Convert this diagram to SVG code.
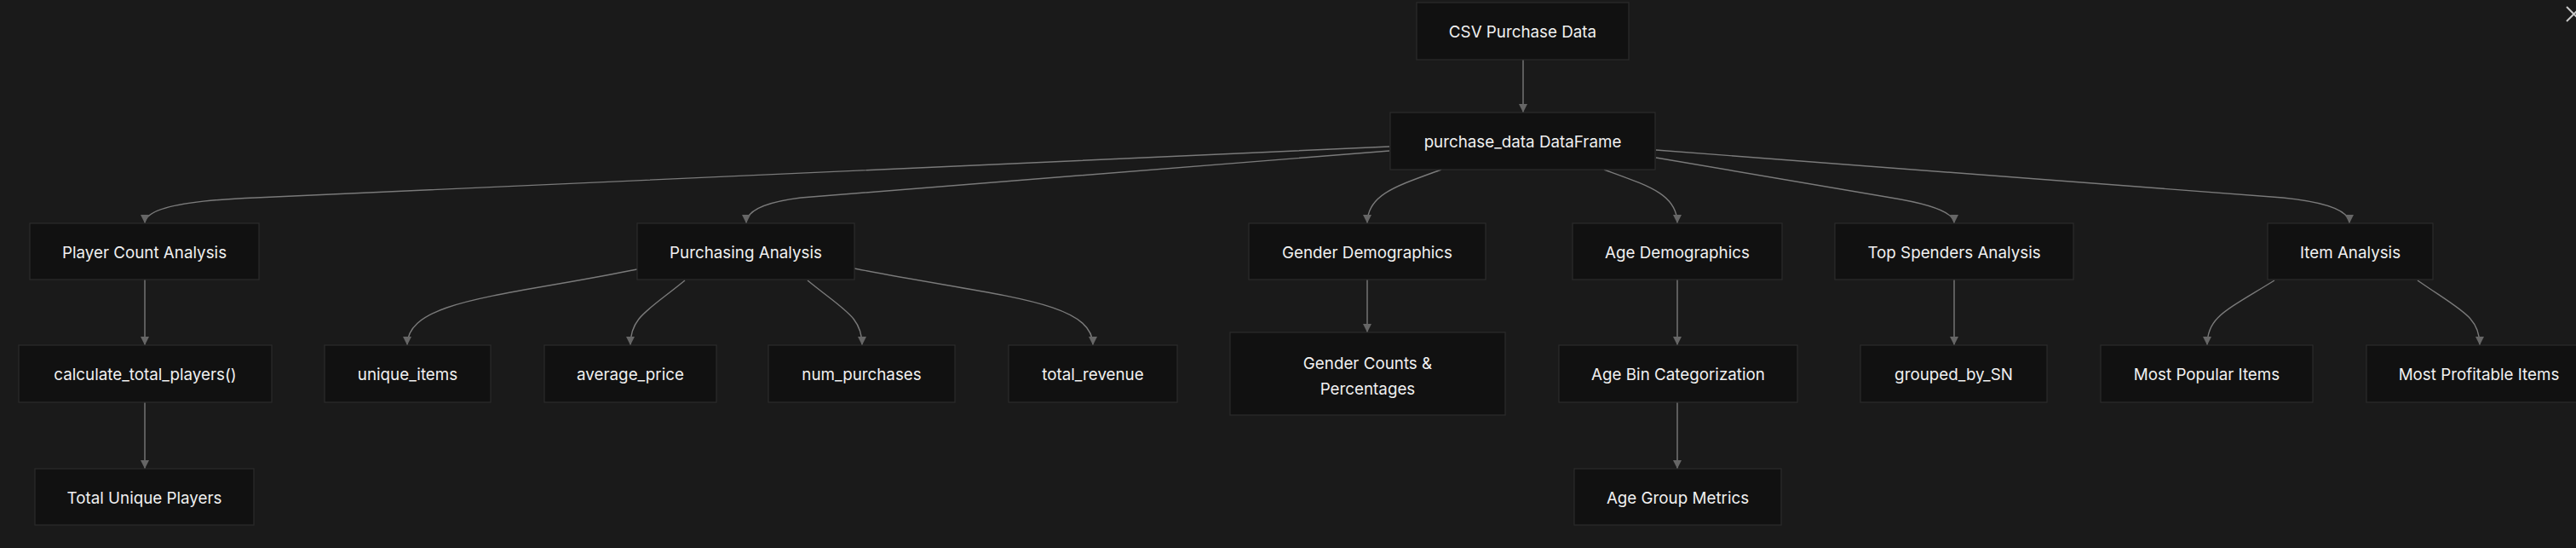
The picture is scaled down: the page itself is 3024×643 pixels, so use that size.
<svg xmlns="http://www.w3.org/2000/svg" width="3024" height="643" viewBox="0 0 3024 643">
<style>
.bg{fill:#1a1a1a}
.node rect{fill:#111111;stroke:#2a2a2a;stroke-width:1.3}
.node text{fill:#f0f0f0;font-family:Inter,"Liberation Sans",Arial,sans-serif;font-size:18.8px;text-anchor:middle}
.edges path{fill:none;stroke:#7a7a7a;stroke-width:1.4}
</style>
<defs>
<marker id="arr" viewBox="0 0 10 10" refX="10" refY="5" markerWidth="10" markerHeight="10" markerUnits="userSpaceOnUse" orient="auto">
<path d="M0,0 L10,5 L0,10 z" fill="#666666"/>
</marker>
</defs>
<rect class="bg" x="0" y="0" width="3024" height="643"/>
<g class="edges">
<path marker-end="url(#arr)" d="M1788,70 L1788,132"/>
<path marker-end="url(#arr)" d="M1631,172 L300,232 Q170,237 170,262"/>
<path marker-end="url(#arr)" d="M1631,177 L940,232 Q876,240 876,262"/>
<path marker-end="url(#arr)" d="M1692,199 C1640,218 1605,228 1605,262"/>
<path marker-end="url(#arr)" d="M1883,199 C1935,218 1969,228 1969,262"/>
<path marker-end="url(#arr)" d="M1944,185 L2220,232 Q2294,244 2294,262"/>
<path marker-end="url(#arr)" d="M1944,176 L2680,232 Q2758,240 2758,262"/>
<path marker-end="url(#arr)" d="M170,328 L170,405"/>
<path marker-end="url(#arr)" d="M170,472 L170,550"/>
<path marker-end="url(#arr)" d="M748,316 C590,348 478,352 478,405"/>
<path marker-end="url(#arr)" d="M804,329 C760,365 740,372 740,405"/>
<path marker-end="url(#arr)" d="M948,329 C992,365 1012,372 1012,405"/>
<path marker-end="url(#arr)" d="M1003,315 C1170,348 1283,352 1283,405"/>
<path marker-end="url(#arr)" d="M1605,328 L1605,390"/>
<path marker-end="url(#arr)" d="M1969,328 L1969,405"/>
<path marker-end="url(#arr)" d="M1969,472 L1969,550"/>
<path marker-end="url(#arr)" d="M2294,328 L2294,405"/>
<path marker-end="url(#arr)" d="M2670,329 C2612,365 2591,372 2591,405"/>
<path marker-end="url(#arr)" d="M2838,329 C2890,365 2911,372 2911,405"/>
</g>
<g id="csv" class="node"><rect x="1663" y="3" width="249" height="67"/><text x="1787.5" y="44">CSV Purchase Data</text></g>
<g id="df" class="node"><rect x="1632" y="132" width="311" height="67"/><text x="1787.5" y="173">purchase_data DataFrame</text></g>
<g id="pc" class="node"><rect x="35" y="262" width="269" height="66"/><text x="169.5" y="302.5">Player Count Analysis</text></g>
<g id="pa" class="node"><rect x="748" y="262" width="255" height="66"/><text x="875.5" y="302.5">Purchasing Analysis</text></g>
<g id="gd" class="node"><rect x="1466" y="262" width="278" height="66"/><text x="1605" y="302.5">Gender Demographics</text></g>
<g id="ad" class="node"><rect x="1846" y="262" width="246" height="66"/><text x="1969" y="302.5">Age Demographics</text></g>
<g id="ts" class="node"><rect x="2154" y="262" width="280" height="66"/><text x="2294" y="302.5">Top Spenders Analysis</text></g>
<g id="ia" class="node"><rect x="2662" y="262" width="194" height="66"/><text x="2759" y="302.5">Item Analysis</text></g>
<g id="ctp" class="node"><rect x="22" y="405" width="297" height="67"/><text x="170.5" y="446">calculate_total_players()</text></g>
<g id="ui" class="node"><rect x="381" y="405" width="195" height="67"/><text x="478.5" y="446">unique_items</text></g>
<g id="ap" class="node"><rect x="639" y="405" width="202" height="67"/><text x="740" y="446">average_price</text></g>
<g id="np" class="node"><rect x="902" y="405" width="219" height="67"/><text x="1011.5" y="446">num_purchases</text></g>
<g id="tr" class="node"><rect x="1184" y="405" width="198" height="67"/><text x="1283" y="446">total_revenue</text></g>
<g id="gc" class="node"><rect x="1444" y="390" width="323" height="97"/><text x="1605.5" y="432.5">Gender Counts &amp;</text><text x="1605.5" y="462.5">Percentages</text></g>
<g id="ab" class="node"><rect x="1830" y="405" width="280" height="67"/><text x="1970" y="446">Age Bin Categorization</text></g>
<g id="gs" class="node"><rect x="2184" y="405" width="219" height="67"/><text x="2293.5" y="446">grouped_by_SN</text></g>
<g id="mpi" class="node"><rect x="2466" y="405" width="249" height="67"/><text x="2590.5" y="446">Most Popular Items</text></g>
<g id="mpr" class="node"><rect x="2778" y="405" width="264" height="67"/><text x="2910" y="446">Most Profitable Items</text></g>
<g id="tup" class="node"><rect x="41" y="550" width="257" height="66"/><text x="169.5" y="590.5">Total Unique Players</text></g>
<g id="agm" class="node"><rect x="1848" y="550" width="243" height="66"/><text x="1969.5" y="590.5">Age Group Metrics</text></g>
<g id="close" stroke="#c8c8c8" stroke-width="2" fill="none"><path d="M3013,8 L3030,25 M3013,25 L3030,8"/></g>
</svg>
